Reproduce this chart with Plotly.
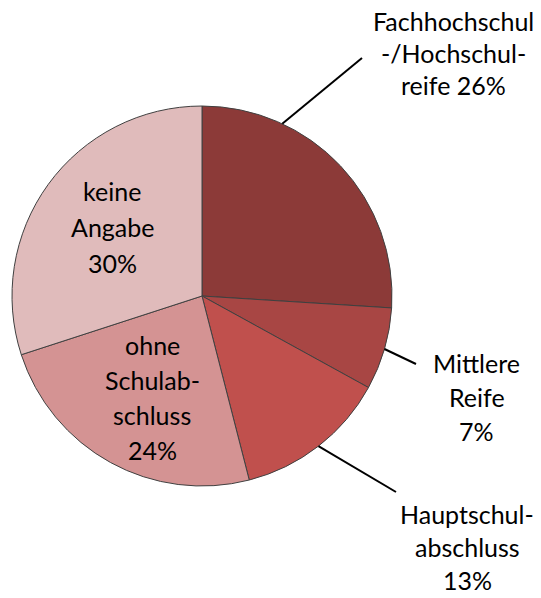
import math
import plotly.graph_objects as go

# ---- data ----
categories = ["Fachhochschul-/Hochschulreife", "Mittlere Reife", "Hauptschulabschluss",
              "ohne Schulabschluss", "keine Angabe"]
values = [26, 7, 13, 24, 30]
label_lines = [
    ["Fachhochschul", "-/Hochschul-", "reife 26%"],
    ["Mittlere", "Reife", "7%"],
    ["Hauptschul-", "abschluss", "13%"],
    ["ohne", "Schulab-", "schluss", "24%"],
    ["keine", "Angabe", "30%"],
]
colors = ["#8C3A38", "#A84644", "#C0504D", "#D49393", "#E0BBBB"]

# ---- layout parameters (window pixels) ----
W, H = 541, 598
OFF = 0
cx, cy, R = 202, 296, 190
label_centers = [(453, 53), (477, 397), (467, 547), (152, 397), (112, 227)]
line_gap = [32, 34, 33, 35, 36]
# leader lines: fraction along slice where line starts, and end point of line
leader_anchor = {0: 0.267, 1: 0.5, 2: 0.5}
leader_end = {0: (362, 58), 1: (416, 364), 2: (396, 492)}

FONT = "Lato"
FS = 25


def px(x):
    return (x - OFF) / W


def py(y):
    return 1 - (y - OFF) / H


fig = go.Figure(go.Pie(
    labels=categories, values=values, sort=False, direction="clockwise", rotation=0,
    marker=dict(colors=colors, line=dict(color="#404040", width=1)),
    textinfo="none", hoverinfo="label+percent", showlegend=False,
    domain=dict(x=[px(cx - R), px(cx + R)], y=[py(cy + R), py(cy - R)]),
))

annotations = []
for i, lines in enumerate(label_lines):
    lx, ly = label_centers[i]
    n = len(lines)
    for k, t in enumerate(lines):
        yy = ly + (k - (n - 1) / 2) * line_gap[i]
        annotations.append(dict(
            x=px(lx), y=py(yy), xref="paper", yref="paper", text=t, showarrow=False,
            xanchor="center", yanchor="middle",
            font=dict(family=FONT, size=FS, color="#000000"),
        ))

shapes = []
total = sum(values)
cum = 0
for i, v in enumerate(values):
    if i in leader_anchor:
        ang = 2 * math.pi * (cum + leader_anchor[i] * v) / total
        sx = cx + R * math.sin(ang)
        sy = cy - R * math.cos(ang)
        ex, ey = leader_end[i]
        shapes.append(dict(type="line", xref="paper", yref="paper",
                           x0=px(sx), y0=py(sy), x1=px(ex), y1=py(ey),
                           line=dict(color="#000000", width=2)))
    cum += v

fig.update_layout(
    width=W, height=H, margin=dict(l=0, r=0, t=0, b=0),
    paper_bgcolor="white", plot_bgcolor="white",
    annotations=annotations, shapes=shapes,
)

fig.write_html(
    "out.html",
    config={"displayModeBar": False},
    post_script="document.body.style.margin='0';document.body.style.overflow='hidden';",
)
